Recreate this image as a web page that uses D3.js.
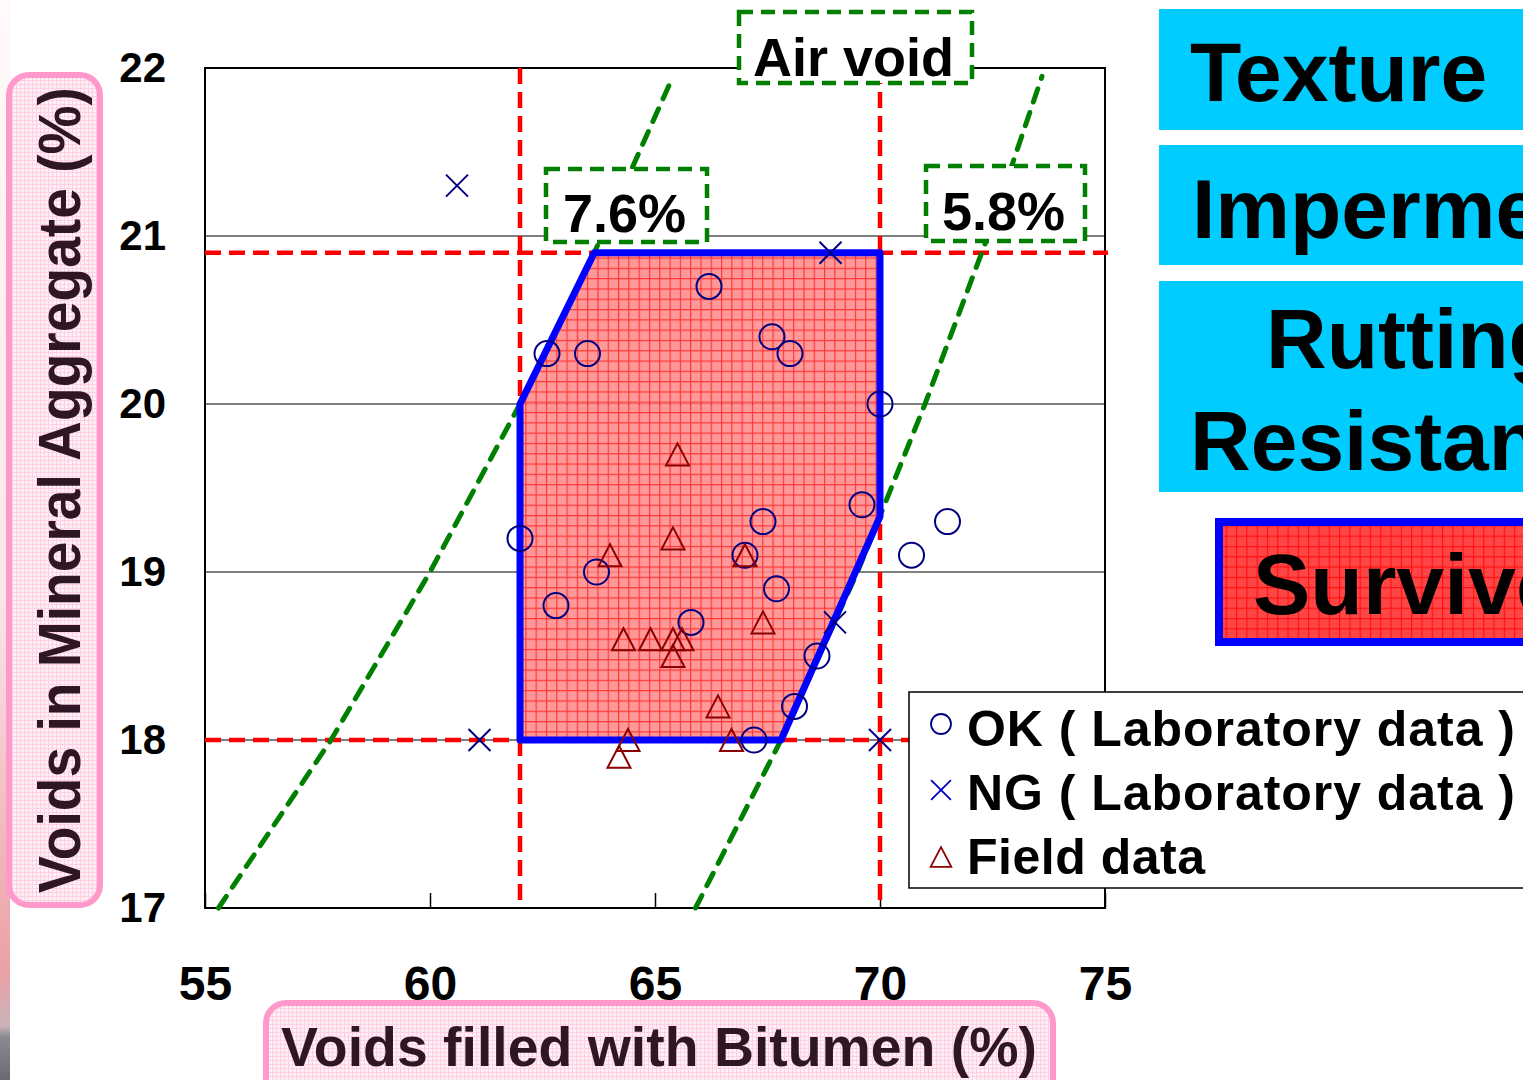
<!DOCTYPE html>
<html>
	<head>
		<meta charset="utf-8">
		<title>VMA vs VFA</title>
		<script src="https://cdn.jsdelivr.net/npm/d3@7"></script>
		<style>
			body { margin: 0; background: #fff; }
			svg { display: block; font-family: "Liberation Sans", Arial, sans-serif; font-weight: bold; }
		</style>
	</head>
	<body>
		<script>

		// OK (laboratory data)
		var okVFA = [66.2, 62.6, 63.5, 67.6, 68.0, 70.0, 69.6, 67.4, 62.0, 63.7,
			62.8, 65.8, 67.0, 67.7, 68.6, 68.1, 67.2, 71.5, 70.7];
		var okVMA = [20.7, 20.3, 20.3, 20.4, 20.3, 20.0, 19.4, 19.3, 19.2, 19.0,
			18.8, 18.7, 19.1, 18.9, 18.5, 18.2, 18.0, 19.3, 19.1];
		// NG (laboratory data)
		var ngVFA = [60.6, 61.1, 68.9, 69.0, 70.0];
		var ngVMA = [21.3, 18.0, 20.9, 18.7, 18.0];
		// field data
		var fieldVFA = [65.5, 65.4, 64.0, 67.0, 64.3, 64.9, 65.4, 65.6, 65.4, 67.4, 66.4, 64.4, 64.2, 66.7];
		var fieldVMA = [19.7, 19.2, 19.1, 19.1, 18.6, 18.6, 18.6, 18.6, 18.5, 18.7, 18.2, 18.0, 17.9, 18.0];

		// criteria
		var vfaLimits = [62, 70];
		var vmaLimits = [18, 20.9];
		var regionVFA = [62, 62, 63.65, 70, 70, 67.8];
		var regionVMA = [18, 20, 20.9, 20.9, 19.33, 18];

		// air void lines
		var av76VFA = [55.3, 57.8, 60.0, 62.0, 63.65, 65.4];
		var av76VMA = [17, 18, 19, 20, 20.9, 21.95];
		var av58VFA = [65.9, 67.8, 69.5, 71.0, 72.4, 73.6];
		var av58VMA = [17, 18, 19, 20, 21, 21.95];

		var xTicks = [55, 60, 65, 70, 75];
		var yTicks = [17, 18, 19, 20, 21, 22];
		var yGrid = [18, 19, 20, 21];

		var legendLabels = ["OK ( Laboratory data )", "NG ( Laboratory data )", "Field data"];

		var plot = {left: 205, right: 1105, top: 68, bottom: 908};

		var svg = d3.select("body").append("svg")
			.attr("width", 1523)
			.attr("height", 1080);

		var defs = svg.append("defs");
		function gridPattern(id, size, bg, line, lw) {
			var p = defs.append("pattern")
				.attr("id", id)
				.attr("patternUnits", "userSpaceOnUse")
				.attr("width", size)
				.attr("height", size);
			p.append("rect").attr("width", size).attr("height", size).attr("fill", bg);
			p.append("path")
				.attr("d", "M0,0.5H" + size + "M0.5,0V" + size)
				.attr("stroke", line)
				.attr("stroke-width", lw);
		}
		gridPattern("fillGrid", 10.3, "#ff8a8a", "#ff1a1a", 1.3);
		gridPattern("survGrid", 10.3, "#ff4646", "#ff1010", 1.3);
		gridPattern("pinkGrid", 4, "#fff0f6", "#ffcfe4", 1);

		var strip = defs.append("linearGradient")
			.attr("id", "strip")
			.attr("x1", 0).attr("y1", 0).attr("x2", 0).attr("y2", 1);
		[[0, "#fffafa"], [0.55, "#fbe6e8"], [0.9, "#eba0a6"], [0.95, "#c9b4b8"],
			[0.96, "#8a8a90"], [1, "#6a6a70"]].forEach(function(s) {
			strip.append("stop").attr("offset", s[0]).attr("stop-color", s[1]);
		});
		svg.append("rect")
			.attr("x", 0).attr("y", 0)
			.attr("width", 10).attr("height", 1080)
			.attr("fill", "url(#strip)");

		var x = d3.scaleLinear().domain([55, 75]).range([plot.left, plot.right]);
		var y = d3.scaleLinear().domain([17, 22]).range([plot.bottom, plot.top]);

		// gridlines
		svg.append("g")
			.selectAll("line")
			.data(yGrid)
			.enter()
			.append("line")
			.attr("x1", plot.left).attr("x2", plot.right)
			.attr("y1", function(d) { return y(d); })
			.attr("y2", function(d) { return y(d); })
			.attr("stroke", "#000")
			.attr("stroke-width", 1.2);

		var region = regionVFA.map(function(v, i) { return [x(v), y(regionVMA[i])]; });

		svg.append("path")
			.attr("d", "M" + region.join("L") + "Z")
			.attr("fill", "url(#fillGrid)")
			.attr("opacity", 0.88);

		// plot frame
		svg.append("rect")
			.attr("x", plot.left).attr("y", plot.top)
			.attr("width", plot.right - plot.left)
			.attr("height", plot.bottom - plot.top)
			.attr("fill", "none")
			.attr("stroke", "#000")
			.attr("stroke-width", 2);

		var xAxis = d3.axisBottom(x)
			.tickValues(xTicks)
			.tickFormat(d3.format("d"))
			.tickSizeInner(-15)
			.tickSizeOuter(0)
			.tickPadding(58);
		var gx = svg.append("g")
			.attr("transform", "translate(0," + plot.bottom + ")")
			.call(xAxis);
		gx.select(".domain").remove();
		gx.selectAll("line").attr("stroke", "#000").attr("stroke-width", 1.5);
		gx.selectAll("text")
			.attr("font-size", 48)
			.attr("font-family", "Liberation Sans, Arial, sans-serif")
			.attr("font-weight", "bold")
			.attr("fill", "#000");

		var yAxis = d3.axisLeft(y)
			.tickValues(yTicks)
			.tickFormat(d3.format("d"))
			.tickSize(0)
			.tickPadding(39);
		var gy = svg.append("g")
			.attr("transform", "translate(" + plot.left + ",0)")
			.call(yAxis);
		gy.select(".domain").remove();
		gy.selectAll("text")
			.attr("font-size", 42)
			.attr("font-family", "Liberation Sans, Arial, sans-serif")
			.attr("font-weight", "bold")
			.attr("fill", "#000");

		// red criteria lines
		var redDash = "16,8";
		svg.append("g")
			.selectAll("line")
			.data(vfaLimits)
			.enter()
			.append("line")
			.attr("x1", function(d) { return x(d); })
			.attr("x2", function(d) { return x(d); })
			.attr("y1", plot.top).attr("y2", plot.bottom)
			.attr("stroke", "#ff0000")
			.attr("stroke-width", 4.5)
			.attr("stroke-dasharray", redDash);
		svg.append("g")
			.selectAll("line")
			.data(vmaLimits)
			.enter()
			.append("line")
			.attr("x1", plot.left).attr("x2", plot.right + 3)
			.attr("y1", function(d) { return y(d); })
			.attr("y2", function(d) { return y(d); })
			.attr("stroke", "#ff0000")
			.attr("stroke-width", 4.5)
			.attr("stroke-dasharray", redDash);

		// green air void lines
		var line = d3.line()
			.x(function(d) { return x(d[0]); })
			.y(function(d) { return y(d[1]); });
		[[av76VFA, av76VMA], [av58VFA, av58VMA]].forEach(function(s) {
			svg.append("path")
				.attr("d", line(s[0].map(function(v, i) { return [v, s[1][i]]; })))
				.attr("fill", "none")
				.attr("stroke", "#008000")
				.attr("stroke-width", 5)
				.attr("stroke-linecap", "round")
				.attr("stroke-dasharray", "14,11");
		});

		// acceptance region outline
		svg.append("path")
			.attr("d", "M" + region.join("L") + "Z")
			.attr("fill", "none")
			.attr("stroke", "#0000ff")
			.attr("stroke-width", 7)
			.attr("stroke-linejoin", "round");

		// points
		var pts = svg.append("g");
		pts.selectAll("circle")
			.data(okVFA)
			.enter()
			.append("circle")
			.attr("cx", function(d) { return x(d); })
			.attr("cy", function(d, i) { return y(okVMA[i]); })
			.attr("r", 12.5)
			.attr("fill", "none")
			.attr("stroke", "#000080")
			.attr("stroke-width", 2);

		var crossPath = "M-11,-11L11,11M-11,11L11,-11";
		var triPath = "M0,-11L11.5,11L-11.5,11Z";
		pts.selectAll("path.ng")
			.data(ngVFA)
			.enter()
			.append("path")
			.attr("class", "ng")
			.attr("transform", function(d, i) { return "translate(" + x(d) + "," + y(ngVMA[i]) + ")"; })
			.attr("d", crossPath)
			.attr("stroke", "#000080")
			.attr("stroke-width", 2);
		pts.selectAll("path.field")
			.data(fieldVFA)
			.enter()
			.append("path")
			.attr("class", "field")
			.attr("transform", function(d, i) { return "translate(" + x(d) + "," + y(fieldVMA[i]) + ")"; })
			.attr("d", triPath)
			.attr("fill", "none")
			.attr("stroke", "#8b0000")
			.attr("stroke-width", 2);

		// annotation boxes
		var notes = [
			{text: "Air void", x: 739, y: 12, w: 233, h: 71, base: 76},
			{text: "7.6%", x: 546, y: 169, w: 161, h: 73, base: 232},
			{text: "5.8%", x: 926, y: 166, w: 159, h: 75, base: 230}
		];
		var note = svg.append("g")
			.selectAll("g")
			.data(notes)
			.enter()
			.append("g");
		note.append("rect")
			.attr("x", function(d) { return d.x; })
			.attr("y", function(d) { return d.y; })
			.attr("width", function(d) { return d.w; })
			.attr("height", function(d) { return d.h; })
			.attr("fill", "#fff")
			.attr("stroke", "#007f00")
			.attr("stroke-width", 4.5)
			.attr("stroke-dasharray", "14,8");
		note.append("text")
			.attr("x", function(d) { return d.x + d.w / 2 - 2; })
			.attr("y", function(d) { return d.base; })
			.attr("text-anchor", "middle")
			.attr("font-size", 54)
			.text(function(d) { return d.text; });

		// legend
		var legend = svg.append("g");
		legend.append("rect")
			.attr("x", 909).attr("y", 692)
			.attr("width", 700).attr("height", 196)
			.attr("fill", "#fff")
			.attr("stroke", "#000")
			.attr("stroke-width", 1.5);
		legend.append("circle")
			.attr("cx", 941).attr("cy", 724).attr("r", 10)
			.attr("fill", "none").attr("stroke", "#000080").attr("stroke-width", 1.8);
		legend.append("path")
			.attr("transform", "translate(941,790) scale(0.9)")
			.attr("d", crossPath)
			.attr("stroke", "#0000cc").attr("stroke-width", 2);
		legend.append("path")
			.attr("transform", "translate(941,857) scale(0.9)")
			.attr("d", triPath)
			.attr("fill", "none").attr("stroke", "#8b0000").attr("stroke-width", 2);
		legend.selectAll("text")
			.data(legendLabels)
			.enter()
			.append("text")
			.attr("x", 967)
			.attr("y", function(d, i) { return 746 + i * 64; })
			.attr("font-size", 50)
			.attr("textLength", function(d, i) { return i < 2 ? 548 : 238; })
			.attr("lengthAdjust", "spacing")
			.text(function(d) { return d; });

		// axis titles
		svg.append("rect")
			.attr("x", 9).attr("y", 75)
			.attr("width", 91).attr("height", 830)
			.attr("rx", 20)
			.attr("fill", "url(#pinkGrid)")
			.attr("stroke", "#ff99cc")
			.attr("stroke-width", 6);
		svg.append("text")
			.attr("transform", "translate(80,893) rotate(-90)")
			.attr("font-size", 60)
			.attr("textLength", 806)
			.attr("lengthAdjust", "spacingAndGlyphs")
			.attr("fill", "#2e1624")
			.text("Voids in Mineral Aggregate (%)");

		svg.append("rect")
			.attr("x", 266).attr("y", 1003)
			.attr("width", 787).attr("height", 100)
			.attr("rx", 20)
			.attr("fill", "url(#pinkGrid)")
			.attr("stroke", "#ff99cc")
			.attr("stroke-width", 6);
		svg.append("text")
			.attr("x", 281).attr("y", 1066)
			.attr("font-size", 56)
			.attr("textLength", 756)
			.attr("lengthAdjust", "spacingAndGlyphs")
			.attr("fill", "#2e1624")
			.text("Voids filled with Bitumen (%)");

		// side panels
		var panels = [
			{y: 9, h: 121, lines: [{t: "Texture", x: 1190, b: 101}]},
			{y: 145, h: 120, lines: [{t: "Impermeability", x: 1192, b: 238}]},
			{y: 281, h: 211, lines: [{t: "Rutting", x: 1266, b: 368}, {t: "Resistance", x: 1190, b: 470}]}
		];
		panels.forEach(function(p) {
			svg.append("rect")
				.attr("x", 1159).attr("y", p.y)
				.attr("width", 420).attr("height", p.h)
				.attr("fill", "#00ccff");
			p.lines.forEach(function(l) {
				svg.append("text")
					.attr("x", l.x).attr("y", l.b)
					.attr("font-size", 84)
					.attr("fill", "#000")
					.text(l.t);
			});
		});
		svg.append("rect")
			.attr("x", 1219).attr("y", 522)
			.attr("width", 400).attr("height", 120)
			.attr("fill", "url(#survGrid)")
			.attr("stroke", "#0000ff")
			.attr("stroke-width", 8);
		svg.append("text")
			.attr("x", 1253).attr("y", 614)
			.attr("font-size", 86)
			.attr("fill", "#000")
			.text("Survive");
		</script>
	</body>
</html>
